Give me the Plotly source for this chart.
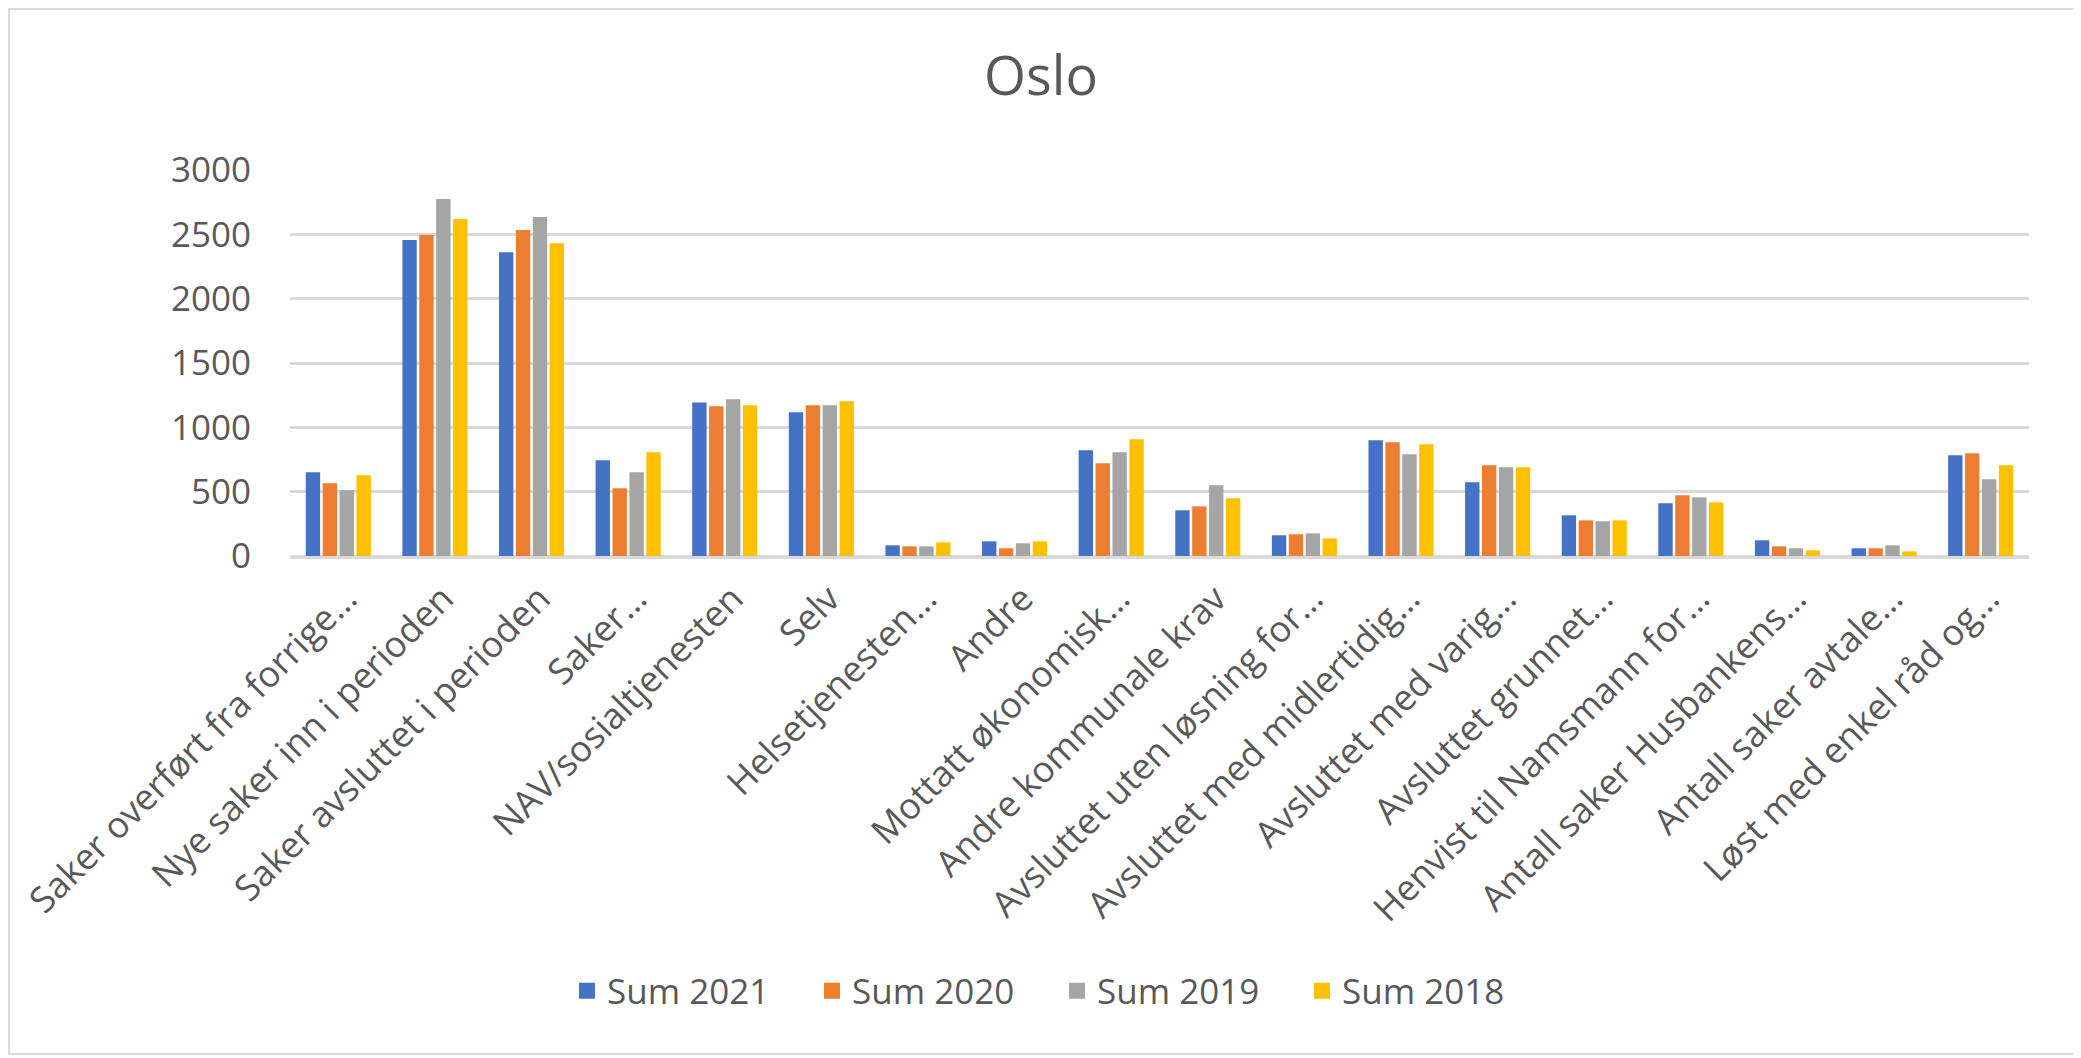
import plotly.graph_objects as go

categories = [
    "Saker overført fra forrige…",
    "Nye saker inn i perioden",
    "Saker avsluttet i perioden",
    "Saker…",
    "NAV/sosialtjenesten",
    "Selv",
    "Helsetjenesten…",
    "Andre",
    "Mottatt økonomisk…",
    "Andre kommunale krav",
    "Avsluttet uten løsning for…",
    "Avsluttet med midlertidig…",
    "Avsluttet med varig…",
    "Avsluttet grunnet…",
    "Henvist til Namsmann for…",
    "Antall saker Husbankens…",
    "Antall saker avtale…",
    "Løst med enkel råd og…",
]

sum_2021 = [651, 2456, 2360, 744, 1193, 1118, 83, 114, 822, 355, 161, 900, 573, 316, 410, 122, 60, 783]
sum_2020 = [565, 2494, 2533, 526, 1164, 1172, 75, 60, 721, 386, 169, 884, 705, 277, 472, 75, 60, 799]
sum_2019 = [511, 2775, 2634, 651, 1219, 1172, 75, 99, 806, 550, 176, 791, 690, 270, 456, 60, 83, 596]
sum_2018 = [627, 2619, 2430, 806, 1172, 1203, 106, 114, 908, 449, 137, 869, 690, 277, 417, 44, 36, 705]

series = [
    ("Sum 2021", sum_2021, "#4472C4"),
    ("Sum 2020", sum_2020, "#ED7D31"),
    ("Sum 2019", sum_2019, "#A5A5A5"),
    ("Sum 2018", sum_2018, "#FFC000"),
]

# page body has an 8px margin, so the figure is placed 8px in from the top-left
W, H = 2073, 1050
ML, MR, MT, MB = 282, 52, 162, 502
FONT = "Open Sans"
TXT = "#595959"

fig = go.Figure()
for name, vals, col in series:
    fig.add_trace(go.Bar(x=categories, y=vals, name=name, marker_color=col,
                         marker_line_width=0, showlegend=False))
# legend entries with larger square swatches
for name, vals, col in series:
    fig.add_trace(go.Scatter(x=[None], y=[None], mode="markers", name=name,
                             marker=dict(symbol="square", size=22, color=col),
                             showlegend=True))

pw = W - ML - MR
ph = H - MT - MB
fig.add_shape(type="rect", xref="paper", yref="paper",
              x0=(1 - ML) / pw, x1=1 + (MR - 4) / pw,
              y0=-(MB - 4) / ph, y1=1 + (MT - 1) / ph,
              line=dict(color="#D9D9D9", width=2), layer="below")

fig.update_layout(
    width=W, height=H,
    margin=dict(l=ML, r=MR, t=MT, b=MB, autoexpand=False),
    paper_bgcolor="white", plot_bgcolor="white",
    font=dict(family=FONT, color=TXT, size=35),
    title=dict(text="Oslo", x=(1041 - 8) / W, xref="container", xanchor="center",
               y=1 - 68 / H, yref="container", yanchor="middle",
               font=dict(size=54, color=TXT, family=FONT)),
    barmode="group", bargap=0.3, bargroupgap=0.15,
    showlegend=True,
    legend=dict(orientation="h", xref="container", yref="container",
                x=(1057 - 8) / W, xanchor="center", y=1 - 983 / H, yanchor="middle",
                font=dict(size=35, color=TXT, family=FONT),
                itemwidth=30, itemsizing="trace", traceorder="normal",
                entrywidth=200),
    xaxis=dict(tickangle=-45, showgrid=False, showline=True,
               linecolor="#D9D9D9", linewidth=3, ticks="",
               tickfont=dict(size=36, color=TXT, family=FONT),
               ticklabelstandoff=4, ticklabelshift=8),
    yaxis=dict(range=[0, 3000], tickvals=[0, 500, 1000, 1500, 2000, 2500, 3000],
               showgrid=True, gridcolor="#D9D9D9", gridwidth=3,
               zeroline=True, zerolinecolor="#D9D9D9", zerolinewidth=3,
               showline=False, ticks="",
               tickfont=dict(size=35, color=TXT, family=FONT),
               ticklabelstandoff=38),
)

fig.write_html("out.html")
